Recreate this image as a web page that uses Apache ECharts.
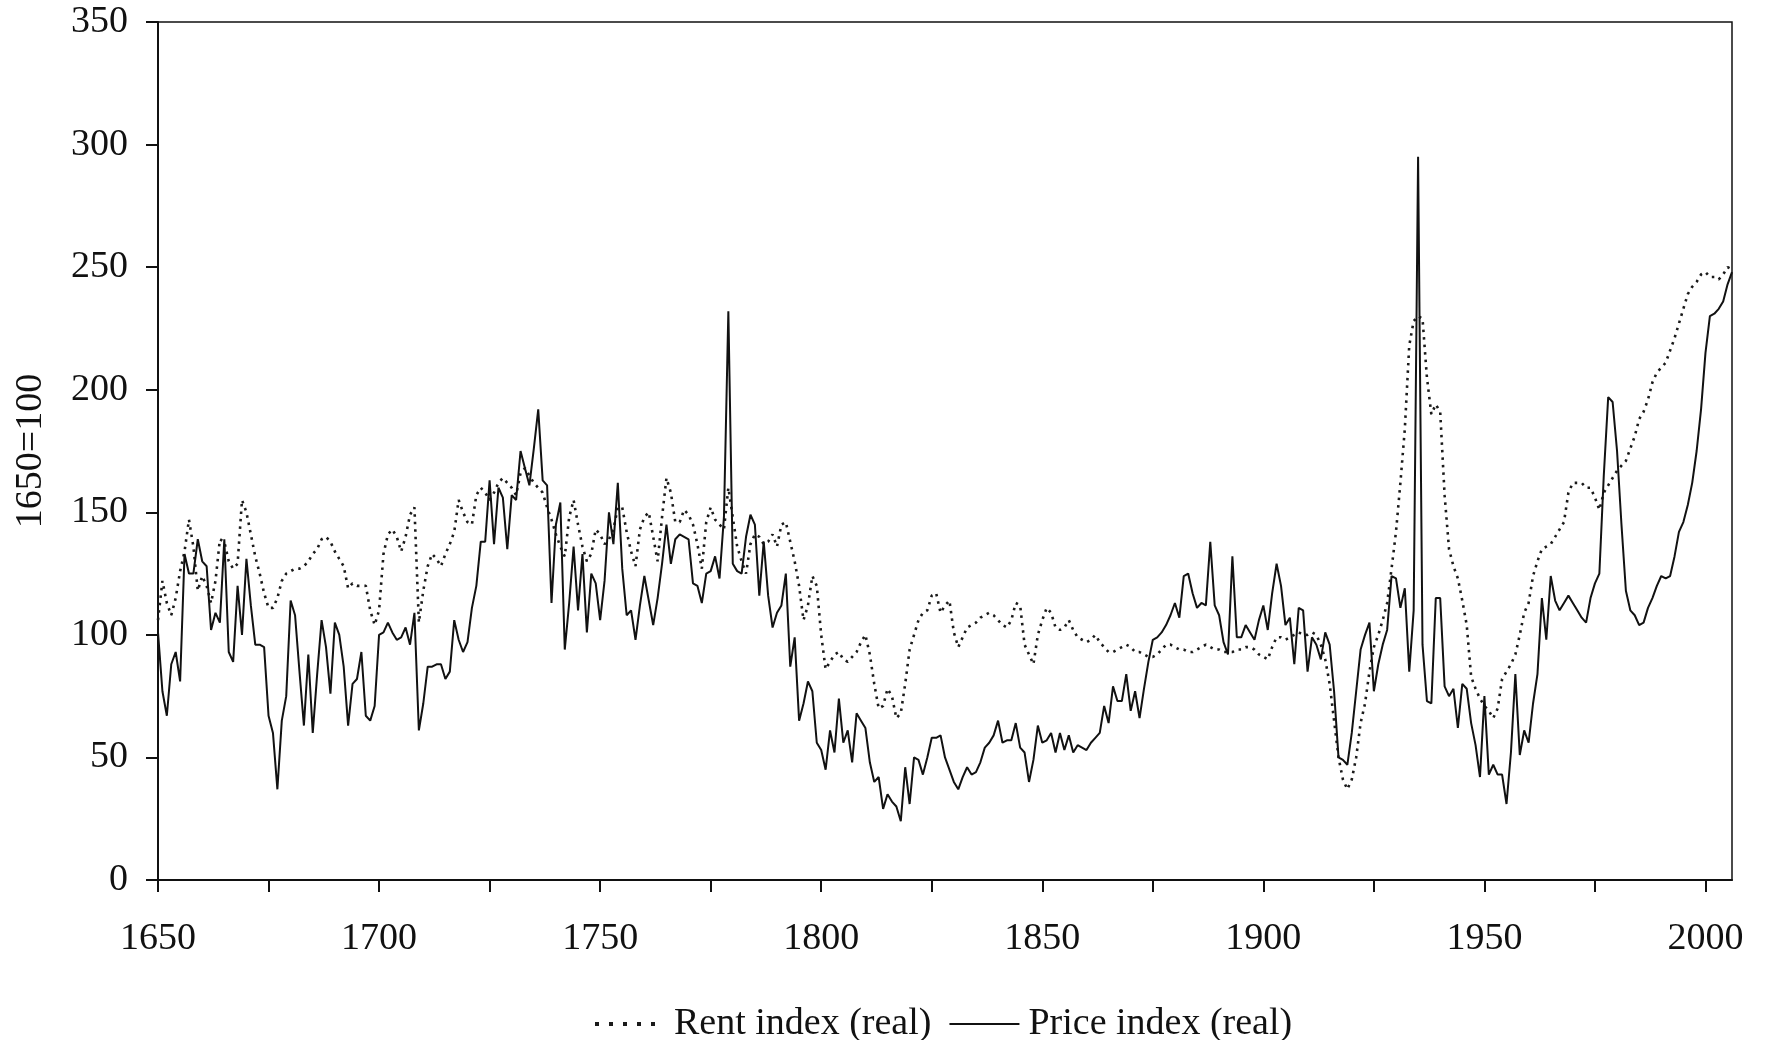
<!DOCTYPE html>
<html style="height: 100%">
<head>
<meta charset="utf-8">
<script src="https://cdn.jsdelivr.net/npm/echarts@6/dist/echarts.min.js"></script>
</head>
<body style="height: 100%; margin: 0; background: #fff">
<div id="container" style="width: 1765px; height: 1040px;"></div>
<script type="text/javascript">
// years 1650 .. 2006, one value per year
var firstYear = 1650;
var lastYear = 2006;
var years = [];
for (var y = firstYear; y <= lastYear; y++) {
    years.push(String(y));
}

// Rent index (real), 1650=100
var rentIndex = [
    106, 122, 113, 108, 115, 126, 134, 147, 136, 118,
    124, 120, 113, 122, 139, 138, 130, 127, 129, 155,
    150, 141, 132, 125, 117, 111, 111, 115, 122, 125,
    126, 127, 127, 128, 130, 133, 135, 139, 140, 138,
    134, 131, 128, 119, 121, 120, 120, 120, 110, 104,
    110, 133, 141, 143, 140, 134, 140, 149, 152, 105,
    118, 128, 133, 131, 128, 133, 137, 142, 155, 150,
    146, 145, 157, 160, 158, 155, 158, 162, 164, 162,
    160, 157, 166, 168, 165, 162, 160, 158, 152, 147,
    141, 136, 132, 148, 155, 145, 136, 130, 133, 143,
    141, 137, 139, 143, 152, 152, 142, 134, 128, 143,
    148, 150, 140, 130, 148, 164, 158, 146, 146, 151,
    149, 145, 137, 127, 146, 152, 147, 145, 143, 160,
    148, 136, 130, 125, 137, 141, 140, 137, 138, 141,
    136, 145, 146, 138, 130, 120, 106, 112, 124, 120,
    100, 86, 89, 92, 93, 90, 89, 91, 93, 97,
    100, 92, 80, 70, 71, 78, 75, 66, 68, 80,
    94, 100, 106, 109, 110, 116, 117, 109, 112, 114,
    101, 95, 99, 103, 104, 105, 107, 108, 109, 108,
    106, 104, 103, 106, 113, 112, 96, 92, 88, 100,
    106, 111, 109, 103, 102, 103, 106, 102, 99, 98,
    97, 98, 100, 97, 95, 93, 93, 94, 95, 96,
    95, 93, 93, 92, 91, 91, 92, 94, 96, 96,
    95, 94, 94, 93, 93, 94, 95, 96, 95, 94,
    94, 93, 93, 93, 94, 94, 95, 95, 94, 92,
    91, 90, 95, 99, 99, 98, 99, 100, 101, 100,
    100, 101, 100, 96, 90, 80, 65, 50, 41, 37,
    41, 50, 64, 72, 85, 95, 100, 106, 113, 127,
    142, 162, 184, 218, 228, 230, 229, 205, 190, 194,
    191, 157, 135, 128, 123, 114, 104, 83, 78, 74,
    71, 69, 66, 70, 82, 85, 88, 92, 100, 109,
    113, 124, 130, 135, 136, 137, 140, 143, 146, 158,
    162, 162, 162, 160, 160, 156, 151, 158, 161, 164,
    167, 169, 171, 176, 181, 188, 191, 196, 203, 207,
    209, 211, 216, 221, 227, 233, 239, 242, 244, 247,
    248, 246, 246, 245, 247, 250, 249
];

// Price index (real), 1650=100
var priceIndex = [
    101, 77, 67, 88, 93, 81, 133, 125, 125, 139,
    130, 128, 102, 109, 105, 139, 93, 89, 120, 100,
    131, 112, 96, 96, 95, 67, 60, 37, 65, 75,
    114, 108, 85, 63, 92, 60, 84, 106, 95, 76,
    105, 100, 87, 63, 80, 82, 93, 67, 65, 71,
    100, 101, 105, 101, 98, 99, 103, 96, 109, 61,
    72, 87, 87, 88, 88, 82, 85, 106, 98, 93,
    97, 111, 120, 138, 138, 163, 137, 160, 156, 135,
    157, 155, 175, 168, 161, 176, 192, 163, 161, 113,
    145, 154, 94, 113, 136, 110, 133, 101, 125, 121,
    106, 122, 150, 137, 162, 127, 108, 110, 98, 112,
    124, 114, 104, 115, 129, 145, 129, 139, 141, 140,
    139, 121, 120, 113, 125, 126, 132, 123, 148, 232,
    129, 126, 125, 140, 149, 145, 116, 138, 116, 103,
    109, 112, 125, 87, 99, 65, 72, 81, 77, 56,
    53, 45, 61, 52, 74, 56, 61, 48, 68, 65,
    62, 48, 40, 42, 29, 35, 32, 30, 24, 46,
    31, 50, 49, 43, 50, 58, 58, 59, 50, 45,
    40, 37, 42, 46, 43, 44, 48, 54, 56, 59,
    65, 56, 57, 57, 64, 54, 52, 40, 49, 63,
    56, 57, 60, 52, 60, 53, 59, 52, 55, 54,
    53, 56, 58, 60, 71, 64, 79, 73, 73, 84,
    69, 77, 66, 78, 89, 98, 99, 101, 104, 108,
    113, 107, 124, 125, 117, 111, 113, 112, 138, 112,
    108, 97, 92, 132, 99, 99, 104, 101, 98, 106,
    112, 102, 117, 129, 120, 104, 107, 88, 111, 110,
    85, 99, 96, 90, 101, 96, 77, 50, 49, 47,
    60, 77, 94, 100, 105, 77, 88, 96, 102, 124,
    123, 111, 119, 85, 110, 295, 96, 73, 72, 115,
    115, 79, 75, 78, 62, 80, 78, 64, 55, 42,
    75, 43, 47, 43, 43, 31, 52, 84, 51, 61,
    56, 72, 84, 115, 98, 124, 114, 110, 113, 116,
    113, 110, 107, 105, 115, 121, 125, 165, 197, 195,
    175, 145, 118, 110, 108, 104, 105, 111, 115, 120,
    124, 123, 124, 132, 142, 146, 153, 162, 175, 192,
    215, 230, 231, 233, 236, 243, 248
];

var yTicks = [0, 50, 100, 150, 200, 250, 300, 350];

var font = '"Liberation Serif", "Times New Roman", serif';
var chart = echarts.init(document.getElementById('container'));

var option = {
    backgroundColor: '#fff',
    animation: false,
    textStyle: { fontFamily: font, color: '#111' },
    grid: {
        left: 158,
        right: 33,
        top: 22,
        bottom: 160,
        show: true,
        borderColor: '#111',
        borderWidth: 1.5
    },
    legend: {
        top: 1000,
        left: 588,
        itemWidth: 70,
        itemHeight: 14,
        itemGap: 17,
        itemStyle: { opacity: 0 },
        data: [
            { name: 'Rent index (real)', lineStyle: { width: 4, type: [4, 10] } },
            { name: 'Price index (real)' }
        ],
        textStyle: { fontFamily: font, fontSize: 38, color: '#111', padding: [0, 0, 0, 4] }
    },
    xAxis: {
        type: 'category',
        data: years,
        boundaryGap: false,
        axisLine: { lineStyle: { color: '#111', width: 2 } },
        axisTick: {
            length: 12,
            lineStyle: { color: '#111', width: 2 },
            interval: function (i) { return i % 25 === 0; }
        },
        axisLabel: {
            margin: 40,
            fontSize: 38,
            fontFamily: font,
            color: '#111',
            interval: function (i) { return i % 50 === 0; }
        },
        splitLine: { show: false }
    },
    yAxis: {
        type: 'value',
        min: yTicks[0],
        max: yTicks[yTicks.length - 1],
        interval: 50,
        name: '1650=100',
        nameLocation: 'middle',
        nameRotate: 90,
        nameGap: 108,
        nameTextStyle: { fontFamily: font, fontSize: 38, color: '#111' },
        axisLine: { show: true, lineStyle: { color: '#111', width: 2 } },
        axisTick: { show: true, length: 12, lineStyle: { color: '#111', width: 2 } },
        axisLabel: { margin: 30, fontSize: 38, fontFamily: font, color: '#111' },
        splitLine: { show: false }
    },
    series: [
        {
            name: 'Rent index (real)',
            type: 'line',
            data: rentIndex,
            symbol: 'none',
            z: 2,
            lineStyle: { color: '#1a1a1a', width: 2.6, type: [2.5, 5] },
            itemStyle: { color: '#1a1a1a' }
        },
        {
            name: 'Price index (real)',
            type: 'line',
            data: priceIndex,
            symbol: 'none',
            z: 3,
            lineStyle: { color: '#111', width: 2 },
            itemStyle: { color: '#111' }
        }
    ]
};

chart.setOption(option);
</script>
</body>
</html>
